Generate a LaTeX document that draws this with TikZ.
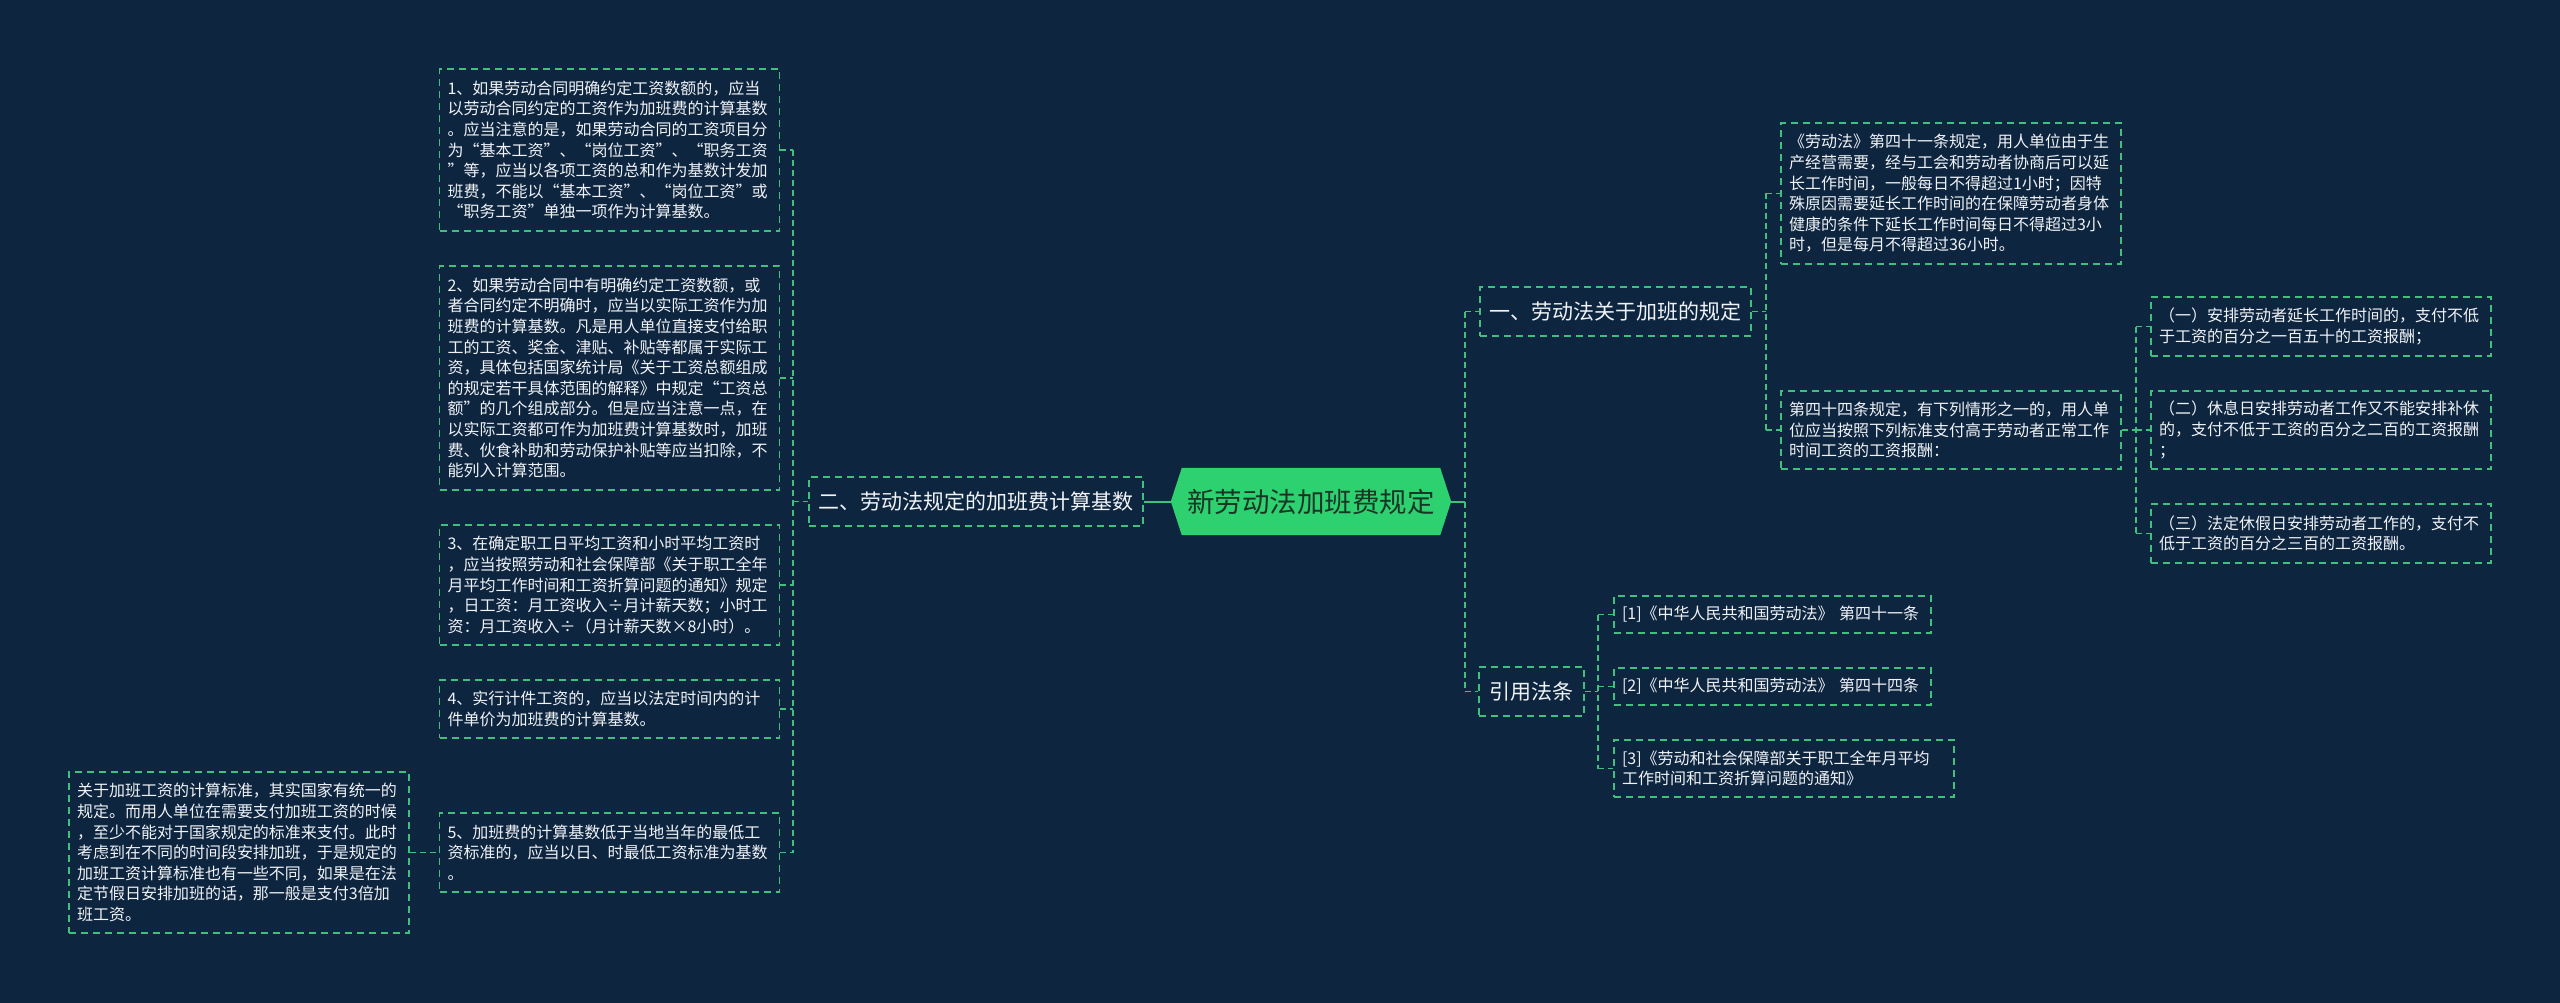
\documentclass[tikz,border=0pt]{standalone}
\usepackage{fontspec}
\setmainfont{Noto Sans CJK SC}
\definecolor{bgc}{RGB}{14,37,64}
\definecolor{lg}{RGB}{64,192,124}
\definecolor{rootfill}{RGB}{46,209,112}
\definecolor{roottxt}{RGB}{24,54,38}
\definecolor{txt}{RGB}{240,243,246}
\pgfdeclarelayer{bgl}
\pgfsetlayers{bgl,main}
\begin{document}
\begin{tikzpicture}[x=1pt,y=-1pt,
  leaf/.style={draw=lg, line width=1.5pt, dash pattern=on 7pt off 5pt, text=txt,
    inner xsep=8pt, inner ysep=0pt, align=left, text width=#1,
    font=\fontsize{16}{20.6}\selectfont},
  leaf/.default=324pt,
  mid/.style={draw=lg, line width=1.5pt, dash pattern=on 7pt off 5pt, text=txt,
    inner sep=0pt, minimum height=49pt, font=\fontsize{21}{25}\selectfont},
  conn/.style={draw=lg, line width=1.5pt, dash pattern=on 6pt off 4pt},
  solidc/.style={draw=lg, line width=2pt}]

\useasboundingbox (0,0) rectangle (2560,1003);

% ---------- root ----------
\node[inner sep=0pt, minimum width=280pt, minimum height=67pt, text=roottxt,
  font=\fontsize{27.5}{30}\selectfont] (root) at (1311,501.5) {新劳动法加班费规定};
\begin{pgfonlayer}{bgl}
  \fill[bgc] (0,0) rectangle (2560,1003);
  \fill[rootfill] (root.west) -- ([xshift=11pt]root.north west) -- ([xshift=-11pt]root.north east)
    -- (root.east) -- ([xshift=-11pt]root.south east) -- ([xshift=11pt]root.south west) -- cycle;
\end{pgfonlayer}

% ---------- main branches ----------
\node[mid, minimum width=334pt] (n2) at (976,501.5) {二、劳动法规定的加班费计算基数};
\node[mid, minimum width=271pt] (n1) at (1615.5,311.5) {一、劳动法关于加班的规定};
\node[mid, minimum width=105pt] (n3) at (1531.5,691.5) {引用法条};

% ---------- left leaves ----------
\node[leaf, minimum height=162pt] (L1) at (609.5,150) {1、如果劳动合同明确约定工资数额的，应当\\以劳动合同约定的工资作为加班费的计算基数\\。应当注意的是，如果劳动合同的工资项目分\\为“基本工资”、“岗位工资”、“职务工资\\”等，应当以各项工资的总和作为基数计发加\\班费，不能以“基本工资”、“岗位工资”或\\“职务工资”单独一项作为计算基数。};
\node[leaf, minimum height=224pt] (L2) at (609.5,378) {2、如果劳动合同中有明确约定工资数额，或\\者合同约定不明确时，应当以实际工资作为加\\班费的计算基数。凡是用人单位直接支付给职\\工的工资、奖金、津贴、补贴等都属于实际工\\资，具体包括国家统计局《关于工资总额组成\\的规定若干具体范围的解释》中规定“工资总\\额”的几个组成部分。但是应当注意一点，在\\以实际工资都可作为加班费计算基数时，加班\\费、伙食补助和劳动保护补贴等应当扣除，不\\能列入计算范围。};
\node[leaf, minimum height=120pt] (L3) at (609.5,585) {3、在确定职工日平均工资和小时平均工资时\\，应当按照劳动和社会保障部《关于职工全年\\月平均工作时间和工资折算问题的通知》规定\\，日工资：月工资收入÷月计薪天数；小时工\\资：月工资收入÷（月计薪天数×8小时）。};
\node[leaf, minimum height=58pt] (L4) at (609.5,709) {4、实行计件工资的，应当以法定时间内的计\\件单价为加班费的计算基数。};
\node[leaf, minimum height=79pt] (L5) at (609.5,852.5) {5、加班费的计算基数低于当地当年的最低工\\资标准的，应当以日、时最低工资标准为基数\\。};
\node[leaf, minimum height=161pt] (Lx) at (239,852.5) {关于加班工资的计算标准，其实国家有统一的\\规定。而用人单位在需要支付加班工资的时候\\，至少不能对于国家规定的标准来支付。此时\\考虑到在不同的时间段安排加班，于是规定的\\加班工资计算标准也有一些不同，如果是在法\\定节假日安排加班的话，那一般是支付3倍加\\班工资。};

% ---------- right leaves ----------
\node[leaf, minimum height=141pt] (R1) at (1951,193.5) {《劳动法》第四十一条规定，用人单位由于生\\产经营需要，经与工会和劳动者协商后可以延\\长工作时间，一般每日不得超过1小时；因特\\殊原因需要延长工作时间的在保障劳动者身体\\健康的条件下延长工作时间每日不得超过3小\\时，但是每月不得超过36小时。};
\node[leaf, minimum height=78pt] (R2) at (1951,430) {第四十四条规定，有下列情形之一的，用人单\\位应当按照下列标准支付高于劳动者正常工作\\时间工资的工资报酬：};
\node[leaf, minimum height=59pt] (S1) at (2321,326.5) {（一）安排劳动者延长工作时间的，支付不低\\于工资的百分之一百五十的工资报酬；};
\node[leaf, minimum height=78pt] (S2) at (2321,430) {（二）休息日安排劳动者工作又不能安排补休\\的，支付不低于工资的百分之二百的工资报酬\\；};
\node[leaf, minimum height=59pt] (S3) at (2321,533.5) {（三）法定休假日安排劳动者工作的，支付不\\低于工资的百分之三百的工资报酬。};
\node[leaf=301pt, minimum height=37pt] (F1) at (1772.5,614.5) {[1]《中华人民共和国劳动法》 第四十一条};
\node[leaf=301pt, minimum height=37pt] (F2) at (1772.5,686.5) {[2]《中华人民共和国劳动法》 第四十四条};
\node[leaf, minimum height=57pt] (F3) at (1784,768.5) {[3]《劳动和社会保障部关于职工全年月平均\\工作时间和工资折算问题的通知》};

% ---------- connectors ----------
\coordinate (busL) at (793,0);
\coordinate (busR) at (1465,0);
\coordinate (busA) at (1766,0);
\coordinate (busB) at (2136,0);
\coordinate (busC) at (1598,0);

% left side
\foreach \n in {L1,L2,L3,L4,L5} \draw[conn] (\n.east) -- (\n.east -| busL);
\draw[conn] (L1.east -| busL) -- (L5.east -| busL);
\draw[conn] (n2.west -| busL) -- (n2.west);
\draw[solidc] (n2.east) -- (root.west);
\draw[conn] (Lx.east) -- (L5.west);

% right side
\draw[solidc] (root.east) -- (root.east -| busR);
\draw[conn] (n1.west -| busR) -- (n3.west -| busR);
\draw[conn] (n1.west -| busR) -- (n1.west);
\draw[conn] (n3.west -| busR) -- (n3.west);

\draw[conn] (n1.east) -- (n1.east -| busA);
\draw[conn] (R1.west -| busA) -- (R2.west -| busA);
\draw[conn] (R1.west -| busA) -- (R1.west);
\draw[conn] (R2.west -| busA) -- (R2.west);

\draw[conn] (R2.east) -- (R2.east -| busB);
\draw[conn] (S1.west -| busB) -- (S3.west -| busB);
\foreach \n in {S1,S2,S3} \draw[conn] (\n.west -| busB) -- (\n.west);

\draw[conn] (n3.east) -- (n3.east -| busC);
\draw[conn] (F1.west -| busC) -- (F3.west -| busC);
\foreach \n in {F1,F2,F3} \draw[conn] (\n.west -| busC) -- (\n.west);
\end{tikzpicture}
\end{document}
